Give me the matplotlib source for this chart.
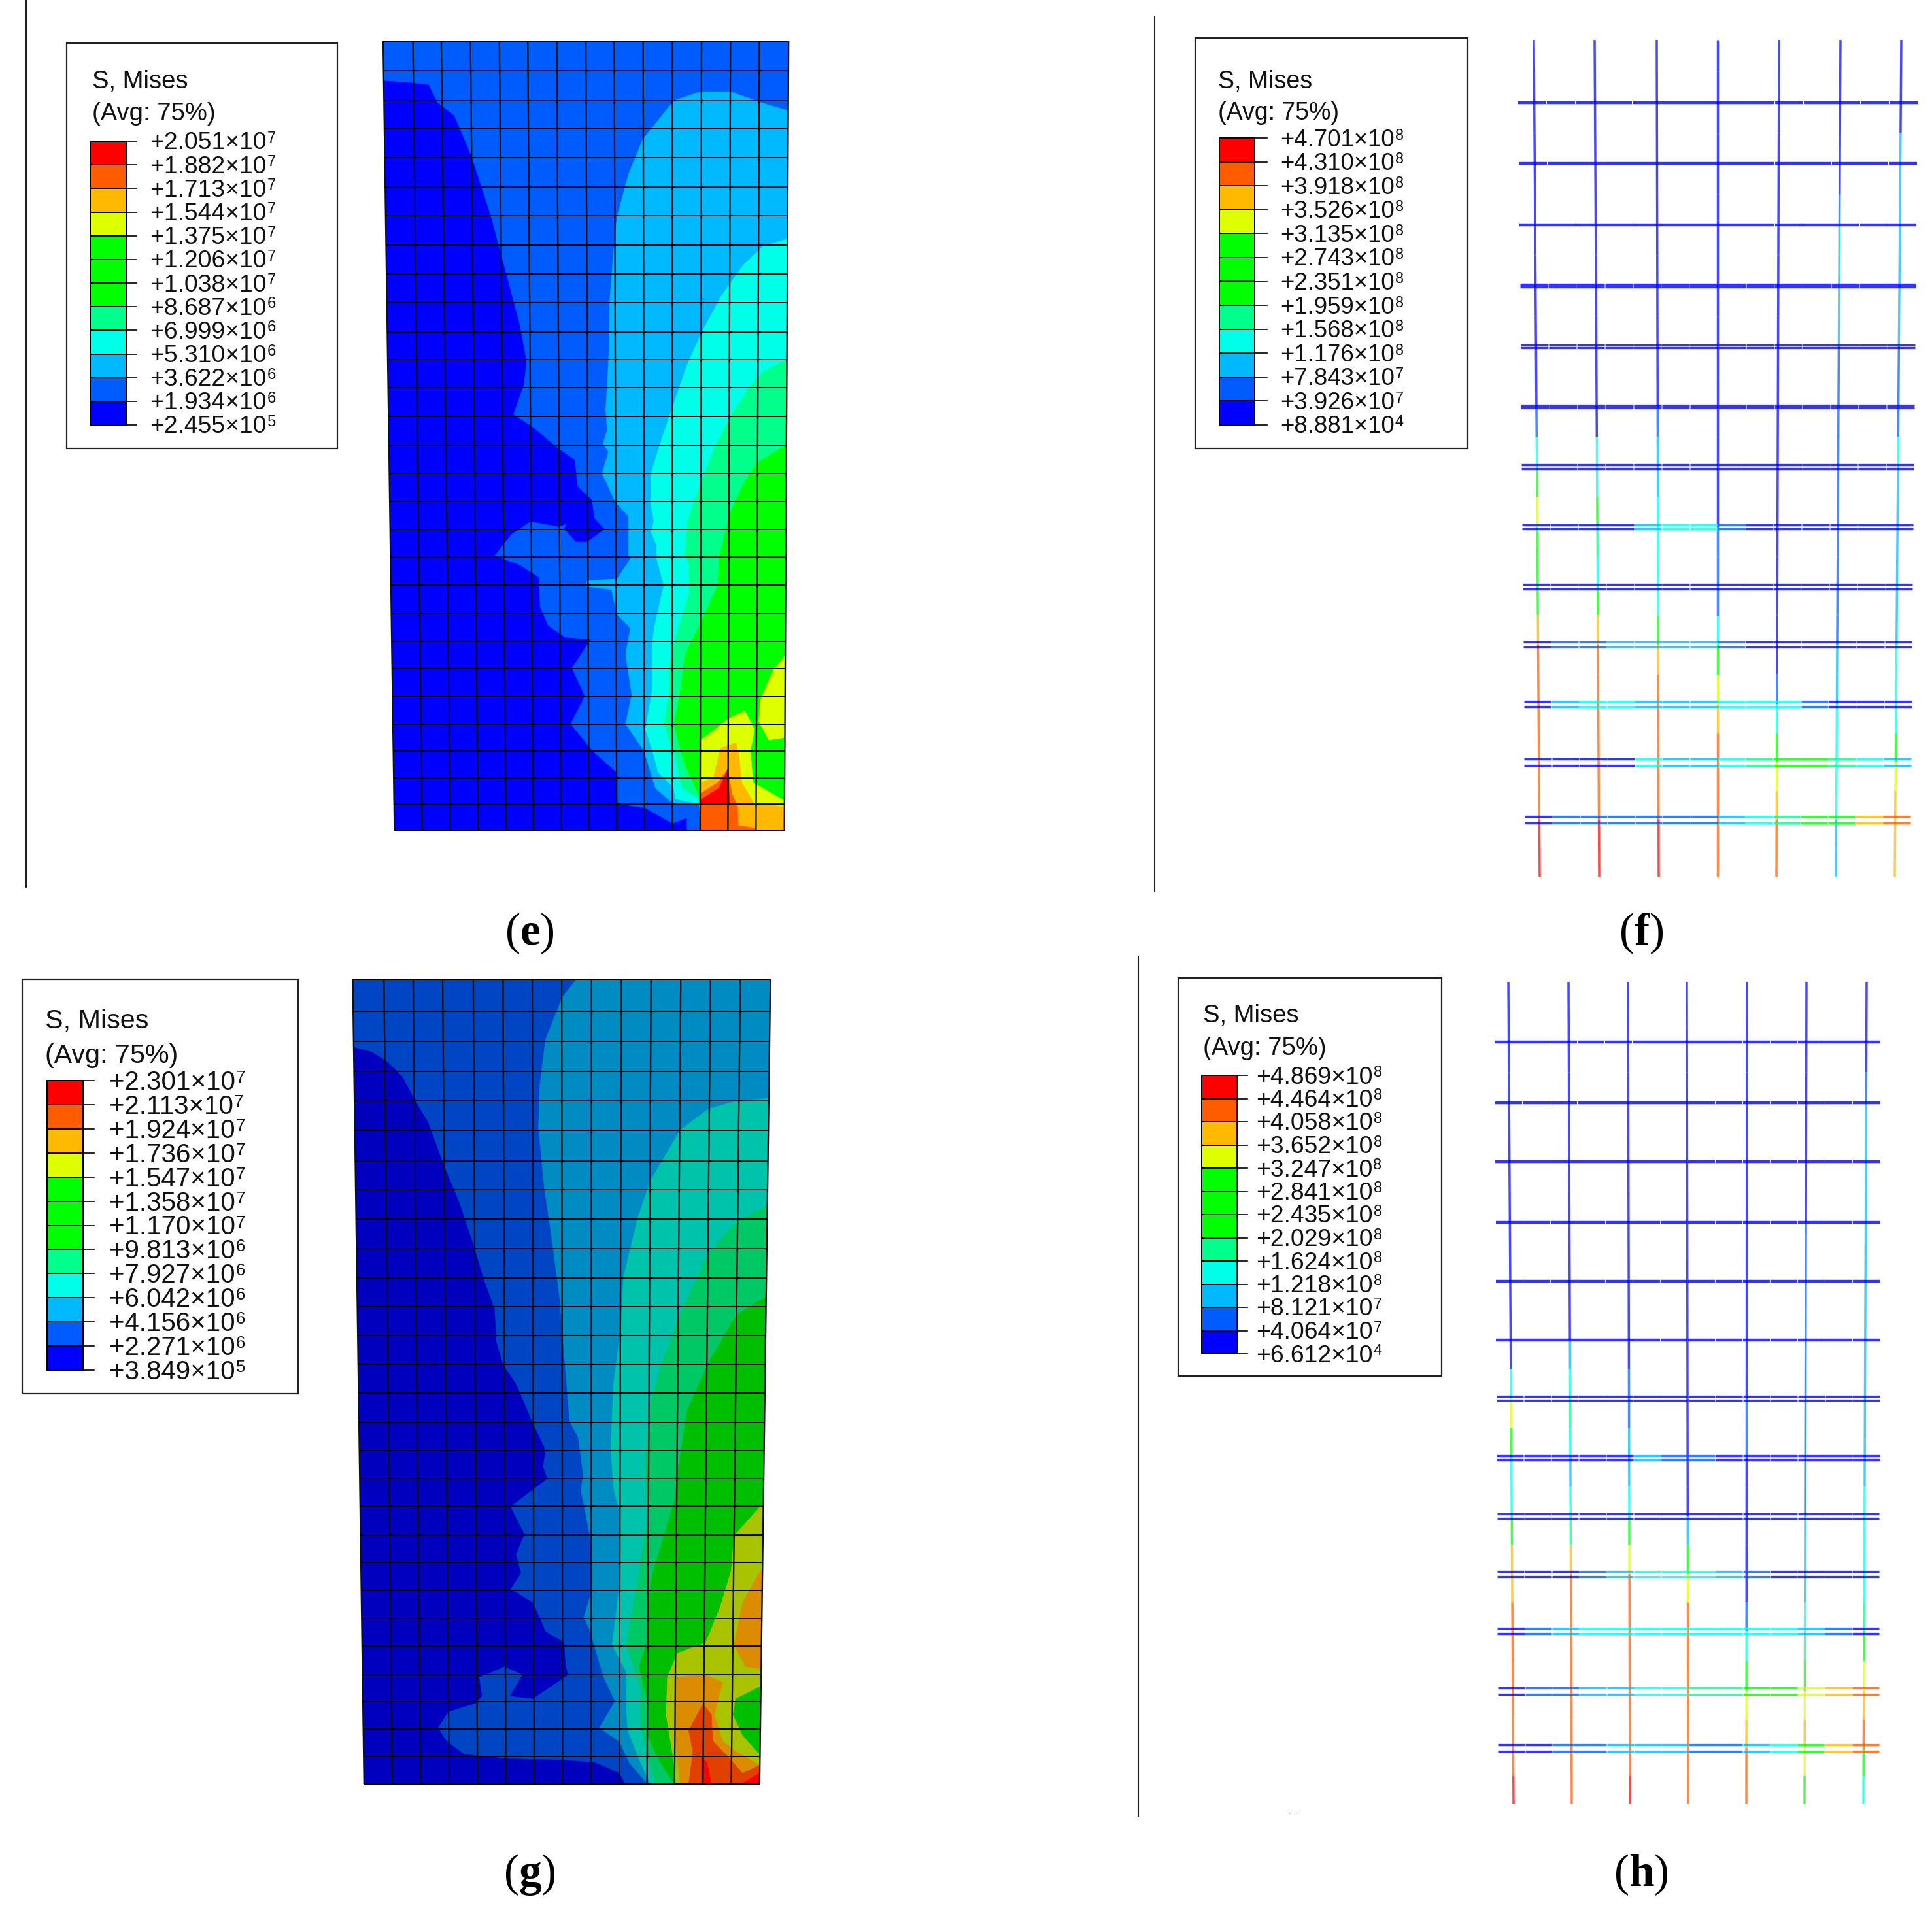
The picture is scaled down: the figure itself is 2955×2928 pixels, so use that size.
import numpy as np
import matplotlib
matplotlib.use('Agg')
import matplotlib.pyplot as plt
from matplotlib.patches import Polygon, Rectangle

plt.rcParams['font.family'] = ['Liberation Sans', 'DejaVu Sans']
plt.rcParams['mathtext.fontset'] = 'custom'
plt.rcParams['mathtext.rm'] = 'Liberation Sans'
plt.rcParams['mathtext.bf'] = 'Liberation Serif:bold'
plt.rcParams['mathtext.default'] = 'regular'

# legend values, top to bottom
e_labels = ['+2.051×10$^7$', '+1.882×10$^7$', '+1.713×10$^7$', '+1.544×10$^7$', '+1.375×10$^7$',
            '+1.206×10$^7$', '+1.038×10$^7$', '+8.687×10$^6$', '+6.999×10$^6$', '+5.310×10$^6$',
            '+3.622×10$^6$', '+1.934×10$^6$', '+2.455×10$^5$']
f_labels = ['+4.701×10$^8$', '+4.310×10$^8$', '+3.918×10$^8$', '+3.526×10$^8$', '+3.135×10$^8$',
            '+2.743×10$^8$', '+2.351×10$^8$', '+1.959×10$^8$', '+1.568×10$^8$', '+1.176×10$^8$',
            '+7.843×10$^7$', '+3.926×10$^7$', '+8.881×10$^4$']
g_labels = ['+2.301×10$^7$', '+2.113×10$^7$', '+1.924×10$^7$', '+1.736×10$^7$', '+1.547×10$^7$',
            '+1.358×10$^7$', '+1.170×10$^7$', '+9.813×10$^6$', '+7.927×10$^6$', '+6.042×10$^6$',
            '+4.156×10$^6$', '+2.271×10$^6$', '+3.849×10$^5$']
h_labels = ['+4.869×10$^8$', '+4.464×10$^8$', '+4.058×10$^8$', '+3.652×10$^8$', '+3.247×10$^8$',
            '+2.841×10$^8$', '+2.435×10$^8$', '+2.029×10$^8$', '+1.624×10$^8$', '+1.218×10$^8$',
            '+8.121×10$^7$', '+4.064×10$^7$', '+6.612×10$^4$']

# contour band colours, low stress to high stress (digits 0-b in the rebar strings)
bands = ['#0000FF', '#005CFF', '#00B9FF', '#00FFE8', '#00FF8B', '#00FF00',
         '#00FF00', '#00FF00', '#DEFF00', '#FFB900', '#FF5C00', '#FF0000']
g_shades = ['#0000BE', '#0046C4', '#008CC3', '#00C3AC', '#00C864', '#00BE00',
            '#AAC300', '#DC8C00', '#E14100', '#FF0000']

e_outline = [(60, 40), (1490, 40), (1475, 1520), (100, 1520)]
e_blue = [(65, 115), (150, 118), (220, 122), (250, 155), (310, 180), (370, 255), (440, 370), (490, 470),
          (540, 570), (565, 640), (555, 685), (518, 740), (590, 765), (680, 805), (735, 825), (745, 875),
          (795, 900), (805, 935), (840, 955), (780, 978), (740, 978), (700, 955), (705, 945), (680, 950),
          (580, 940), (510, 965), (452, 1005), (540, 1022), (608, 1045), (612, 1100), (640, 1135), (700, 1158),
          (790, 1162), (725, 1215), (770, 1268), (720, 1320), (800, 1372), (885, 1412), (885, 1470), (985, 1478),
          (1080, 1507), (1130, 1497), (1130, 1520), (100, 1520)]
e_sky = [(1485, 170), (1390, 155), (1285, 135), (1180, 135), (1085, 152), (975, 225), (925, 290), (885, 370),
         (875, 420), (860, 520), (855, 640), (845, 730), (850, 770), (835, 795), (855, 810), (832, 850),
         (880, 905), (925, 930), (925, 1005), (935, 1008), (885, 1048), (780, 1052), (775, 1062), (865, 1068),
         (885, 1115), (932, 1140), (915, 1190), (937, 1265), (915, 1320), (980, 1370), (1020, 1440), (1085, 1470),
         (1175, 1470), (1180, 1520), (1480, 1520)]
e_cyan = [(1490, 410), (1400, 425), (1330, 460), (1250, 520), (1180, 590), (1130, 650), (1085, 720), (1040, 790),
          (1005, 850), (1003, 905), (1015, 940), (1005, 960), (1025, 985), (1025, 1010), (1050, 1060), (1020, 1130),
          (1008, 1170), (1008, 1260), (985, 1330), (1010, 1370), (1030, 1410), (1085, 1440), (1090, 1460),
          (1175, 1470), (1180, 1520), (1480, 1520)]
e_spring = [(1490, 635), (1400, 660), (1350, 690), (1290, 740), (1230, 800), (1180, 870), (1135, 940), (1125, 1005),
            (1140, 1020), (1140, 1075), (1090, 1160), (1068, 1215), (1070, 1260), (1050, 1320), (1090, 1380),
            (1115, 1440), (1175, 1460), (1180, 1520), (1480, 1520)]
e_green = [(1490, 795), (1380, 830), (1330, 870), (1280, 930), (1245, 1010), (1240, 1060), (1180, 1130), (1125, 1190),
           (1105, 1270), (1085, 1320), (1120, 1390), (1175, 1455), (1180, 1520), (1480, 1520)]
e_yellow_a = [(1180, 1350), (1280, 1310), (1335, 1295), (1370, 1330), (1355, 1370), (1365, 1430), (1480, 1465),
              (1480, 1520), (1180, 1520)]
e_yellow_b = [(1480, 1190), (1435, 1220), (1390, 1275), (1385, 1315), (1420, 1350), (1480, 1345)]
e_orange = [(1180, 1430), (1225, 1420), (1250, 1365), (1305, 1355), (1315, 1380), (1325, 1430), (1370, 1470),
            (1480, 1475), (1480, 1520), (1180, 1520)]
e_redorange = [(1180, 1450), (1240, 1430), (1275, 1405), (1290, 1450), (1310, 1475), (1312, 1510), (1372, 1515),
               (1372, 1520), (1180, 1520)]
e_red = [(1180, 1462), (1245, 1440), (1275, 1405), (1283, 1470), (1180, 1472)]

# contour outlines of panel (g)
g_outline = [(45, 22), (1518, 22), (1480, 1530), (85, 1530)]
g_blue = [(50, 150), (110, 158), (170, 178), (220, 205), (260, 245), (310, 290), (365, 370), (420, 440), (470, 520),
          (510, 590), (545, 640), (550, 700), (575, 745), (620, 780), (680, 855), (725, 905), (715, 935), (730, 958),
          (600, 1010), (650, 1062), (620, 1100), (638, 1135), (600, 1165), (680, 1190), (725, 1245), (790, 1265),
          (795, 1310), (805, 1325), (680, 1370), (600, 1365), (645, 1325), (580, 1310), (490, 1330), (500, 1365),
          (480, 1378), (380, 1395), (345, 1425), (375, 1450), (440, 1475), (600, 1483), (780, 1485), (900, 1490),
          (985, 1510), (1005, 1530), (85, 1530)]
g_sky = [(835, 22), (785, 55), (725, 135), (705, 220), (700, 300), (720, 410), (745, 500), (775, 620), (790, 720),
         (810, 850), (840, 880), (858, 950), (850, 980), (880, 1060), (890, 1110), (890, 1165), (860, 1218), (880, 1240),
         (930, 1330), (970, 1375), (915, 1425), (985, 1450), (1020, 1490), (1085, 1530), (1480, 1530), (1518, 22)]
g_cyan = [(1518, 245), (1400, 250), (1300, 265), (1200, 305), (1095, 400), (1050, 470), (1000, 580), (990, 680),
          (965, 780), (955, 900), (965, 975), (985, 1020), (985, 1160), (960, 1270), (1010, 1320), (1010, 1390),
          (1015, 1430), (1060, 1490), (1095, 1530), (1480, 1530)]
g_spring = [(1510, 445), (1400, 475), (1300, 535), (1200, 650), (1130, 750), (1090, 830), (1075, 950), (1085, 1030),
            (1050, 1150), (1010, 1270), (1060, 1350), (1060, 1420), (1085, 1480), (1115, 1530), (1480, 1530)]
g_green = [(1510, 615), (1400, 650), (1300, 740), (1225, 830), (1190, 950), (1180, 1000), (1095, 1150), (1085, 1260),
           (1055, 1310), (1085, 1375), (1085, 1440), (1130, 1490), (1180, 1530), (1480, 1530)]
g_yellow = [(1500, 1000), (1390, 1065), (1380, 1130), (1340, 1200), (1290, 1265), (1190, 1285), (1155, 1330),
            (1150, 1400), (1175, 1480), (1185, 1530), (1480, 1530), (1480, 1475), (1420, 1440), (1385, 1400),
            (1395, 1370), (1490, 1345)]
g_orange_a = [(1185, 1330), (1285, 1325), (1350, 1340), (1320, 1400), (1350, 1450), (1400, 1470), (1480, 1495),
              (1480, 1530), (1200, 1530), (1180, 1430)]
g_orange_b = [(1495, 1120), (1420, 1190), (1390, 1270), (1430, 1310), (1490, 1315)]
g_redorange = [(1230, 1430), (1280, 1380), (1310, 1400), (1315, 1450), (1370, 1480), (1420, 1510), (1480, 1495),
               (1480, 1530), (1230, 1530), (1245, 1470)]
g_red_a = [(1275, 1480), (1295, 1490), (1310, 1530), (1275, 1530)]
g_red_b = [(1415, 1530), (1480, 1510), (1480, 1530)]

# mesh lines of the concrete panels, crop coordinates
e_rows = [40, 95, 152, 205, 258, 313, 368, 423, 477, 530, 585, 637, 690, 743, 797, 850, 903, 955, 1007, 1060,
          1112, 1165, 1217, 1268, 1320, 1371, 1421, 1470, 1520]
e_cols_top = [60, 165, 265, 368, 470, 570, 672, 775, 875, 977, 1080, 1183, 1285, 1387, 1490]
e_cols_bot = [100, 198, 297, 395, 493, 590, 688, 786, 884, 982, 1080, 1178, 1276, 1375, 1475]
g_rows = [22, 82, 138, 195, 250, 305, 362, 417, 472, 527, 582, 636, 690, 743, 798, 852, 905, 958, 1010, 1063,
          1115, 1168, 1220, 1272, 1325, 1376, 1427, 1478, 1530]
g_cols_top = [45, 155, 258, 362, 470, 575, 678, 782, 887, 992, 1097, 1202, 1307, 1412, 1518]
g_cols_bot = [85, 185, 285, 385, 485, 585, 685, 785, 885, 985, 1083, 1180, 1280, 1380, 1480]

# rebar cages: band digit per element along each bar, top to bottom / left to right
f_vert = ['00000000000013585559aaaaaabb',
          '00000000000003354359aaaaaabb',
          '000000000000122333359aaaaabb',
          '00000000000000001113589aaaaa',
          '00000000000000000000013589aa',
          '0000012222111111111122333322',
          '0002222222111322222233358999']
f_rows = [157, 250, 344, 437, 530, 622, 714, 806, 897, 986, 1077, 1166, 1254]
f_rungs = {7: '00002331000000', 9: '01122221000000', 10: '02332223331000',
           11: '00003223455432', 12: '0111111234559a'}
h_vert = ['000000000000038533599aaaaaab',
          '00000000000023432349aaaaaaaa',
          '00000000000001122358aaaaaaab',
          '000000000000000000258aaaaaaa',
          '0000000000000011000001358 9aa'.replace(' ', ''),
          '0000000011111111112223458985',
          '0001222222222222233334589a53']
h_rows = [1594, 1687, 1777, 1870, 1960, 2050, 2139, 2230, 2319, 2408, 2495, 2587, 2674]
h_rungs = {7: '00000211000000', 9: '00012333210000', 10: '01233333333210',
           11: '0112233445589a', 12: '0011222112359a'}


def from_crop(points, left, top):
    pts = np.array(points, dtype=float)
    pts[:, 0] = left + pts[:, 0] * 680 / 1568
    pts[:, 1] = top + pts[:, 1] * 1280 / 1568
    return pts


def draw_panel(ax, left, top, outline, regions, rows, cols_top, cols_bot):
    clip = Polygon(from_crop(outline, left, top), closed=True, transform=ax.transData)
    for pts, color in regions:
        p = Polygon(from_crop(pts, left, top), closed=True, fc=color, ec=color, lw=0.4, zorder=2)
        ax.add_patch(p)
        p.set_clip_path(clip)
    # mesh
    t = (np.array(rows) - rows[0]) / (rows[-1] - rows[0])
    for a, b in zip(cols_top, cols_bot):
        seg = from_crop([(a, rows[0]), (b, rows[-1])], left, top)
        ax.plot(seg[:, 0], seg[:, 1], color='#101018', lw=1.7, zorder=3, solid_capstyle='butt')
    for y, f in zip(rows, t):
        x0 = cols_top[0] + (cols_bot[0] - cols_top[0]) * f
        x1 = cols_top[-1] + (cols_bot[-1] - cols_top[-1]) * f
        seg = from_crop([(x0, y), (x1, y)], left, top)
        ax.plot(seg[:, 0], seg[:, 1], color='black', lw=1.4, zorder=3, solid_capstyle='butt')


def draw_legend(ax, box, bar, tick_x, text_x, title_x, title_y, avg_y, labels, size=26.8):
    ax.add_patch(Rectangle((box[0], box[1]), box[2] - box[0], box[3] - box[1], fc='white', ec='#222222', lw=1.6, zorder=4))
    edges = np.linspace(bar[1], bar[3], 13)
    renderer = fig.canvas.get_renderer()
    for i, lab in enumerate(labels):
        if i < 12:
            ax.add_patch(Rectangle((bar[0], edges[i]), bar[2] - bar[0], edges[i + 1] - edges[i],
                                   fc=bands[11 - i], ec='black', lw=1.4, zorder=5))
        ax.plot([bar[2], tick_x], [edges[i], edges[i]], color='black', lw=1.2, zorder=5)
        # the exponent is smaller than matplotlib's own superscript, so it is placed by hand
        main = ax.text(text_x, edges[i] + 3, lab[:-4], fontsize=size, color='#111111', va='center', ha='left', zorder=6)
        end = main.get_window_extent(renderer).x1
        ax.text(end + 1, edges[i] - 4, lab[-2], fontsize=size * 0.64, color='#111111', va='center', ha='left', zorder=6)
    ax.text(title_x, title_y, 'S, Mises', fontsize=size + 0.7, color='#111111', va='center', ha='left', zorder=6)
    ax.text(title_x, avg_y, '(Avg: 75%)', fontsize=size + 0.7, color='#111111', va='center', ha='left', zorder=6)


def draw_cage(ax, top_x, bot_x, y0, y1, rows, x_top, x_bot, vert, rungs, first_double):
    spans = [y0] + list(rows) + [y1]
    for xa, xb, levels in zip(top_x, bot_x, vert):
        k = 0
        for s in range(14):
            mids = np.linspace(spans[s], spans[s + 1], 3)
            for m in range(2):
                ya, yb = mids[m], mids[m + 1]
                fa = (ya - y0) / (y1 - y0)
                fb = (yb - y0) / (y1 - y0)
                ax.plot([xa + (xb - xa) * fa, xa + (xb - xa) * fb], [ya, yb], color=bands[int(levels[k], 16)],
                        lw=2.5, alpha=0.72, zorder=2, solid_capstyle='butt')
                k += 1
    for r, y in enumerate(rows):
        f = r / 12
        xl = x_top[0] + (x_bot[0] - x_top[0]) * f
        xr = x_top[1] + (x_bot[1] - x_top[1]) * f
        gap = 1 + 9 * f if r >= first_double else 0
        levels = rungs.get(r, '0' * 14)
        xs = np.linspace(xl, xr, 15)
        for off in ([-gap / 2, gap / 2] if gap else [0]):
            for i in range(14):
                ax.plot([xs[i] + 0.3, xs[i + 1] - 0.3], [y + off, y + off], color=bands[int(levels[i], 16)],
                        lw=2.4 if gap else 3.2, alpha=0.8, zorder=3, solid_capstyle='butt')


fig = plt.figure(figsize=(29.55, 29.28), dpi=100)
ax = fig.add_axes([0, 0, 1, 1])
ax.set_xlim(0, 2955)
ax.set_ylim(2928, 0)
ax.axis('off')

# separators
for x, y0, y1 in [(40, 0, 1357), (1766, 25, 1364), (1741, 1464, 2778)]:
    ax.plot([x, x], [y0, y1], color='#222222', lw=1.5, zorder=1)

e_regions = [(e_outline, bands[1]), (e_blue, bands[0]), (e_sky, bands[2]), (e_cyan, bands[3]), (e_spring, bands[4]),
             (e_green, bands[5]), (e_yellow_a, bands[8]), (e_yellow_b, bands[8]), (e_orange, bands[9]),
             (e_redorange, bands[10]), (e_red, bands[11])]
draw_panel(ax, 560, 30, e_outline, e_regions, e_rows, e_cols_top, e_cols_bot)

g_regions = [(g_outline, g_shades[1]), (g_blue, g_shades[0]), (g_sky, g_shades[2]), (g_cyan, g_shades[3]),
             (g_spring, g_shades[4]), (g_green, g_shades[5]), (g_yellow, g_shades[6]), (g_orange_a, g_shades[7]),
             (g_orange_b, g_shades[7]), (g_redorange, g_shades[8]), (g_red_a, g_shades[9]), (g_red_b, g_shades[9])]
draw_panel(ax, 520, 1480, g_outline, g_regions, g_rows, g_cols_top, g_cols_bot)

draw_cage(ax, [2346, 2439, 2534, 2627, 2721, 2815, 2908], [2355, 2446, 2537, 2627, 2717, 2808, 2898], 61, 1341,
          f_rows, (2322, 2933), (2332, 2922), f_vert, f_rungs, 3)
draw_cage(ax, [2307, 2399, 2490, 2580, 2672, 2763, 2855], [2315, 2404, 2493, 2582, 2671, 2760, 2850], 1502, 2760,
          h_rows, (2286, 2876), (2291, 2874), h_vert, h_rungs, 6)

draw_legend(ax, (102, 66, 516, 686), (138, 216, 193, 650), 209, 229, 141, 125, 174, e_labels)
draw_legend(ax, (1828, 58, 2245, 686), (1865, 211, 1919, 650), 1938, 1958, 1863, 125, 173, f_labels, size=26.3)
draw_legend(ax, (34, 1498, 456, 2132), (72, 1653, 127, 2096), 144, 167, 69, 1562, 1615, g_labels, size=29)
draw_legend(ax, (1802, 1496, 2205, 2105), (1838, 1645, 1892, 2071), 1908, 1921, 1840, 1554, 1604, h_labels)

# panel letters
for x, y, letter in [(810, 1428, 'e'), (2510, 1428, 'f'), (810, 2868, 'g'), (2510, 2868, 'h')]:
    ax.text(x, y, '($\\mathbf{' + letter + '}$)', family='Liberation Serif', fontsize=50, color='black',
            ha='center', va='center', zorder=6)

ax.text(1979, 2774, '- -', fontsize=12, color='black', ha='center', va='center')

fig.savefig('out.png', dpi=100, facecolor='white')
